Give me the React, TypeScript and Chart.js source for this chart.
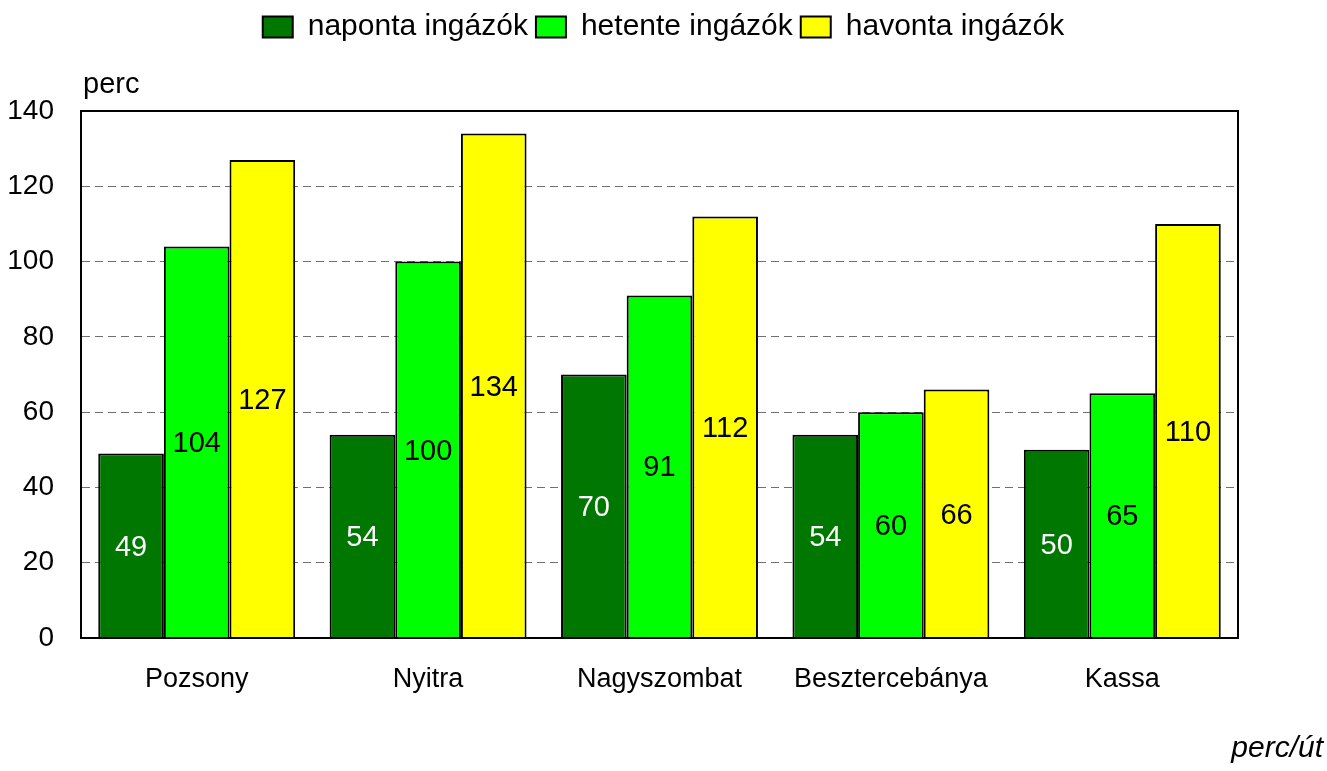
import React, { useEffect, useRef } from "react";
import { Chart, registerables } from "chart.js";

Chart.register(...registerables);

const categories = ["Pozsony", "Nyitra", "Nagyszombat", "Besztercebánya", "Kassa"];
const seriesNames = ["naponta ingázók", "hetente ingázók", "havonta ingázók"];
const dailyValues = [49, 54, 70, 54, 50];
const weeklyValues = [104, 100, 91, 60, 65];
const monthlyValues = [127, 134, 112, 66, 110];
const seriesColors = ["#007700", "#00ff00", "#ffff00"];
const labelColors = ["#ffffff", "#000000", "#000000"];
const yTitle = "perc";
const noteText = "perc/út";

const FONT = '"Liberation Sans", Arial, sans-serif';

const legendSpacer = {
  id: "legendSpacer",
  beforeInit(chart: any) {
    const legend = chart.legend;
    if (!legend) return;
    const orig = legend.fit;
    legend.fit = function () {
      orig.call(this);
      this.height += 59;
    };
  },
};

const decorations = {
  id: "decorations",
  afterDatasetsDraw(chart: any) {
    const { ctx, chartArea } = chart;
    ctx.save();
    // plot frame
    ctx.strokeStyle = "#000000";
    ctx.lineWidth = 2;
    ctx.strokeRect(chartArea.left, chartArea.top, chartArea.right - chartArea.left, chartArea.bottom - chartArea.top);
    // value labels
    ctx.font = `29px ${FONT}`;
    ctx.textAlign = "center";
    ctx.textBaseline = "middle";
    chart.data.datasets.forEach((ds: any, i: number) => {
      const meta = chart.getDatasetMeta(i);
      meta.data.forEach((bar: any, j: number) => {
        const p = bar.getProps(["x", "y", "base"], true);
        ctx.fillStyle = labelColors[i];
        ctx.fillText(String(ds.data[j]), p.x, (p.y + p.base) / 2 + 2);
      });
    });
    // axis title
    ctx.fillStyle = "#000000";
    ctx.textAlign = "left";
    ctx.textBaseline = "alphabetic";
    ctx.font = `29px ${FONT}`;
    ctx.fillText(yTitle, chartArea.left + 2, 93);
    // note
    ctx.font = `italic 30px ${FONT}`;
    ctx.textAlign = "right";
    ctx.fillText(noteText, chart.width - 4, 757);
    ctx.restore();
  },
};

export default function App() {
  const canvasRef = useRef<HTMLCanvasElement | null>(null);

  useEffect(() => {
    const canvas = canvasRef.current;
    if (!canvas) return;
    const allValues = [dailyValues, weeklyValues, monthlyValues];
    const chart = new Chart(canvas, {
      type: "bar",
      data: {
        labels: categories,
        datasets: allValues.map((vals, i) => ({
          label: seriesNames[i],
          data: vals,
          backgroundColor: seriesColors[i],
          borderColor: "#000000",
          borderWidth: 2,
          categoryPercentage: 0.851,
          barPercentage: 1,
        })),
      },
      options: {
        responsive: false,
        animation: false,
        devicePixelRatio: 1,
        layout: { padding: { top: 4, left: 0, right: 0, bottom: 0 } },
        plugins: {
          tooltip: { enabled: false },
          legend: {
            position: "top",
            align: "center",
            labels: {
              color: "#000000",
              font: { family: FONT, size: 30 },
              boxWidth: 30,
              boxHeight: 21,
              padding: 8,
            },
          },
        },
        scales: {
          x: {
            grid: { display: false },
            border: { display: true, color: "#000000", width: 2 },
            ticks: { color: "#000000", font: { family: FONT, size: 27 }, padding: 17, maxRotation: 0 },
            afterFit(scale: any) {
              scale.height = 133;
            },
          },
          y: {
            min: 0,
            max: 140,
            ticks: { stepSize: 20, color: "#000000", font: { family: FONT, size: 28 }, padding: 27 },
            grid: {
              color: "#707070",
              lineWidth: 1,
              drawTicks: false,
            },
            border: { display: true, color: "#000000", width: 2, dash: [8, 5] },
            afterFit(scale: any) {
              scale.width = 81;
            },
          },
          yRight: {
            position: "right",
            display: true,
            grid: { display: false, drawTicks: false },
            border: { display: false },
            ticks: { display: false },
            afterFit(scale: any) {
              scale.width = 89;
            },
          },
        },
      },
      plugins: [legendSpacer, decorations],
    });
    return () => chart.destroy();
  }, []);

  return (
    <div style={{ position: "fixed", left: 0, top: 0, width: 1327, height: 771, background: "#ffffff" }}>
      <canvas ref={canvasRef} width={1327} height={771} style={{ display: "block" }} />
    </div>
  );
}
